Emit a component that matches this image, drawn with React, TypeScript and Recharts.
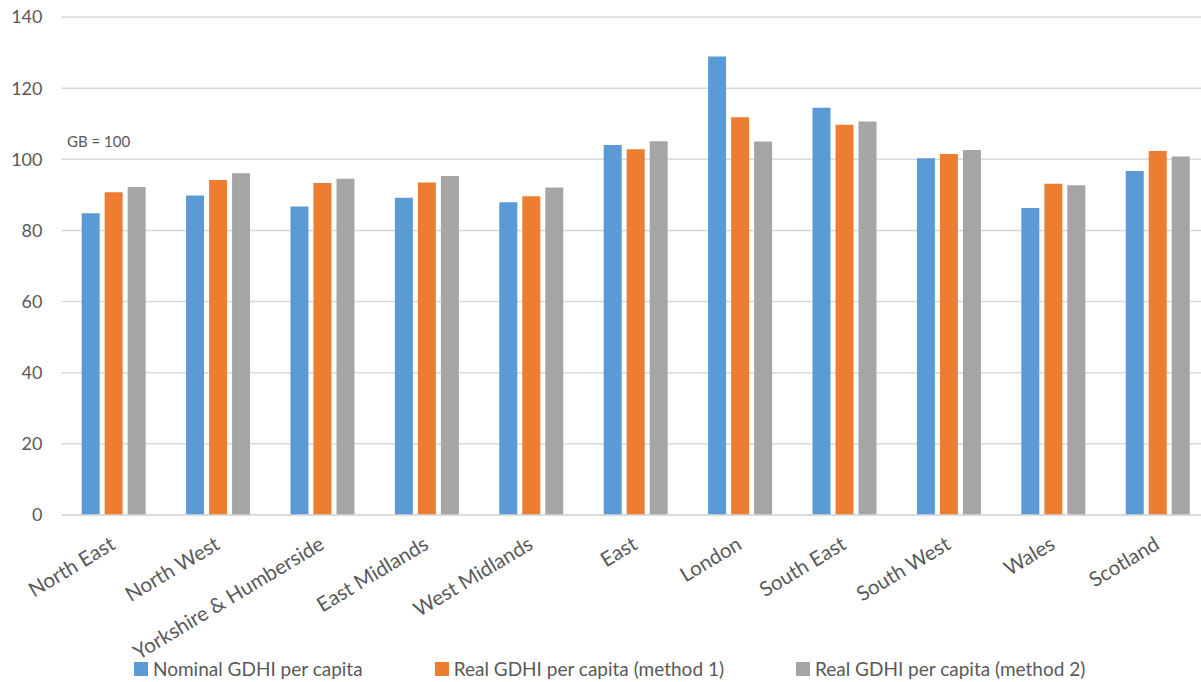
import React from 'react';
import { BarChart, Bar, XAxis, YAxis, CartesianGrid, Legend } from 'recharts';

const regions = [
  'North East',
  'North West',
  'Yorkshire & Humberside',
  'East Midlands',
  'West Midlands',
  'East',
  'London',
  'South East',
  'South West',
  'Wales',
  'Scotland',
];

const nominal = [84.8, 89.8, 86.7, 89.2, 87.9, 104.0, 128.9, 114.5, 100.3, 86.3, 96.7];
const realMethod1 = [90.7, 94.2, 93.3, 93.5, 89.6, 102.8, 111.8, 109.7, 101.5, 93.1, 102.3];
const realMethod2 = [92.2, 96.1, 94.5, 95.3, 92.1, 105.1, 105.0, 110.6, 102.6, 92.7, 100.8];

const yTicks = [0, 20, 40, 60, 80, 100, 120, 140];

const series = [
  { key: 'nominal', name: 'Nominal GDHI per capita', color: '#5b9bd5' },
  { key: 'real1', name: 'Real GDHI per capita (method 1)', color: '#ed7d31' },
  { key: 'real2', name: 'Real GDHI per capita (method 2)', color: '#a5a5a5' },
];

const data = regions.map((region, i) => ({
  region,
  nominal: nominal[i],
  real1: realMethod1[i],
  real2: realMethod2[i],
}));

const TEXT = '#595959';
const FONT = 'Lato, "Open Sans", sans-serif';

function RegionTick(props: any) {
  const { x, y, payload } = props;
  return (
    <g transform={`translate(${x + 3},${y + 33})`}>
      <text
        textAnchor="end"
        transform="rotate(-31)"
        fill={TEXT}
        fontSize={20.5}
        fontFamily={FONT}
      >
        {payload.value}
      </text>
    </g>
  );
}

function LegendRow() {
  return (
    <div
      style={{
        height: 40,
        boxSizing: 'border-box',
        paddingTop: 14,
        paddingLeft: 134,
        display: 'flex',
        alignItems: 'flex-start',
        fontFamily: FONT,
        fontSize: 19,
        color: TEXT,
        lineHeight: '26px',
      }}
    >
      {series.map((s, i) => (
        <div
          key={s.key}
          style={{ display: 'flex', alignItems: 'center', marginRight: i < 2 ? 72 : 0 }}
        >
          <span
            style={{ width: 14, height: 14, background: s.color, marginRight: 5, display: 'inline-block' }}
          />
          <span>{s.name}</span>
        </div>
      ))}
    </div>
  );
}

export default function App() {
  return (
    <div
      style={{
        position: 'absolute',
        left: 0,
        top: 0,
        width: 1201,
        height: 682,
        overflow: 'hidden',
        background: '#fff',
        fontFamily: FONT,
      }}
    >
      <BarChart
        width={1210}
        height={682}
        data={data}
        margin={{ top: 17, right: 0, left: 0, bottom: 0 }}
        barCategoryGap="19.3%"
        barGap={5}
      >
        <CartesianGrid vertical={false} stroke="#d9d9d9" strokeWidth={1.5} />
        <XAxis
          dataKey="region"
          interval={0}
          height={127}
          tickLine={false}
          tickSize={0}
          tickMargin={0}
          axisLine={{ stroke: '#d9d9d9', strokeWidth: 1.5 }}
          tick={<RegionTick />}
        />
        <YAxis
          width={61.5}
          domain={[0, 140]}
          ticks={yTicks}
          axisLine={false}
          tickLine={false}
          tickSize={0}
          tickMargin={19}
          tick={{ fill: TEXT, fontSize: 18, fontFamily: FONT }}
        />
        <Legend verticalAlign="bottom" content={<LegendRow />} wrapperStyle={{ left: 0, width: 1210 }} />
        {series.map((s) => (
          <Bar key={s.key} dataKey={s.key} name={s.name} fill={s.color} isAnimationActive={false} />
        ))}
      </BarChart>
      <div
        style={{
          position: 'absolute',
          left: 67,
          top: 132,
          fontSize: 15,
          lineHeight: '18px',
          color: TEXT,
        }}
      >
        GB = 100
      </div>
    </div>
  );
}
